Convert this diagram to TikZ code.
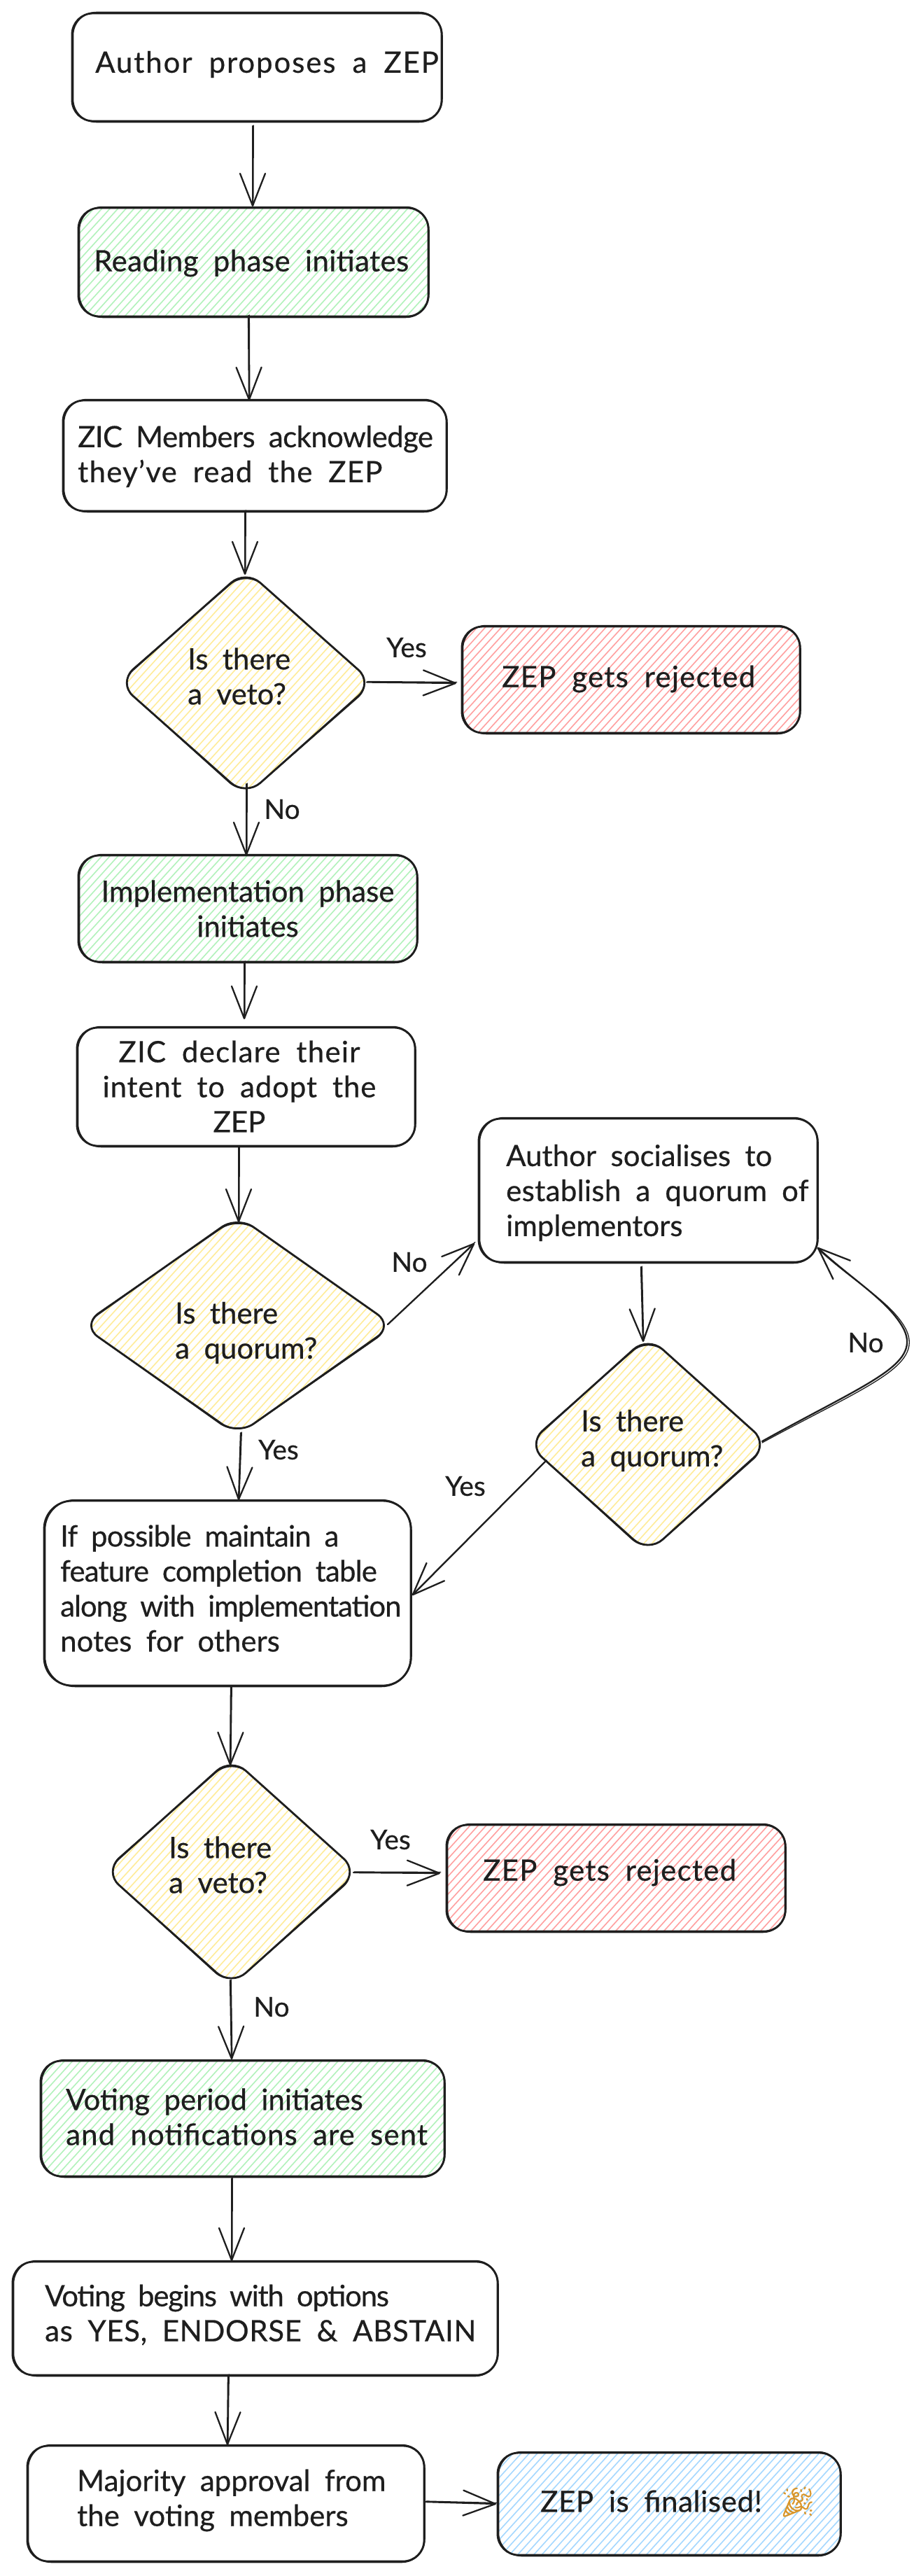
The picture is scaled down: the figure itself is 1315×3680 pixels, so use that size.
\documentclass[tikz,border=0pt]{standalone}
\usepackage{fontspec}
\setmainfont[WordSpace=1.9,FakeBold=0.5]{Lato}
\newfontfamily\emojifont[FakeBold=1]{Noto Emoji}
\usetikzlibrary{arrows.meta,shapes.geometric}
\definecolor{ink}{HTML}{1E1E1E}
\definecolor{hgreen}{HTML}{B2F2BB}
\definecolor{hred}{HTML}{FFA0A0}
\definecolor{hyellow}{HTML}{FFEC99}
\definecolor{hblue}{HTML}{A5D8FF}
\definecolor{partygold}{HTML}{D9962A}
\newcommand{\lsp}[2]{{\addfontfeature{LetterSpace=#1}#2}}
\tikzset{
  x=1pt,y=-1pt,
  outline/.style={draw=ink,line width=2.8pt,line join=round,line cap=round},
  thin outline/.style={draw=ink,line width=1.5pt,line join=round,line cap=round},
  hachure/.style={line width=1.6pt,line cap=round},
  conn/.style={draw=ink,line width=2.3pt,line cap=round,line join=round,
    -{Straight Barb[length=46pt,width=36pt,line width=2.3pt,round]}},
  conn2/.style={draw=ink,line width=1.3pt,line cap=round},
  txt/.style={text=ink,font=\fontsize{42}{50}\selectfont,inner sep=0pt,align=left,anchor=west},
  ctxt/.style={text=ink,font=\fontsize{42}{50}\selectfont,inner sep=0pt,align=center},
  lbl/.style={text=ink,font=\fontsize{39}{46}\selectfont,inner sep=0pt},
}
% hatch lines over the current clip: colour, x1, y1, x2, y2
\newcommand{\hatchlines}[5]{%
  \pgfmathsetmacro{\hH}{(#5-#3)/1.1}%
  \pgfmathsetmacro{\hEnd}{#4+\hH}%
  \pgfmathsetmacro{\hNext}{#2+11.5}%
  \foreach \k in {#2,\hNext,...,\hEnd}{%
    \draw[hachure,#1] (\k,#3) -- (\k-\hH,#5);%
  }}
% name, x1, y1, x2, y2, colour, radius
\newcommand{\skbox}[7]{%
  \node[rectangle,inner sep=0pt,outer sep=0pt,minimum width={#4-#2},minimum height={#5-#3}] (#1) at ({(#2+#4)/2},{(#3+#5)/2}) {};
  \ifx\relax#6\relax\else
    \begin{scope}
      \clip[rounded corners=#7] (#2,#3) rectangle (#4,#5);
      \hatchlines{#6}{#2}{#3}{#4}{#5}
    \end{scope}
  \fi
  \draw[outline,rounded corners=#7] (#2,#3) rectangle (#4,#5);
  \draw[thin outline,rounded corners=#7+3] (#2+1.5,#3-1.5) rectangle (#4+1,#5+1.5);
}
% name, x1, y1, x2, y2, colour
\newcommand{\skdiamond}[6]{%
  \pgfmathsetmacro{\dW}{#4-#2}\pgfmathsetmacro{\dH}{#5-#3}%
  \pgfmathsetmacro{\dA}{\dW/\dH}%
  \pgfmathsetmacro{\dX}{(#2+#4)/2}\pgfmathsetmacro{\dY}{(#3+#5)/2}%
  \node[diamond,shape aspect=\dA,inner sep=0pt,outer sep=0pt,minimum width=\dW pt,minimum height=\dH pt] (#1) at (\dX,\dY) {};
  \begin{scope}
    \clip[rounded corners=28] (\dX,#3-11) -- (#4+11,\dY) -- (\dX,#5+11) -- (#2-11,\dY) -- cycle;
    \hatchlines{#6}{#2}{#3}{#4}{#5}
  \end{scope}
  \draw[outline,rounded corners=28] (\dX,#3-11) -- (#4+11,\dY) -- (\dX,#5+11) -- (#2-11,\dY) -- cycle;
  \draw[thin outline,rounded corners=30] (\dX+1,#3-10) -- (#4+12,\dY+1) -- (\dX-1,#5+12) -- (#2-12,\dY-1) -- cycle;
}
\newcommand{\skarrow}[2]{%
  \coordinate (pp) at (#1);
  \coordinate (qq) at (#2);
  \draw[conn] (pp) -- (qq);
  \draw[conn2] ([xshift=1.3pt,yshift=1pt]pp) -- ([xshift=.8pt,yshift=1.5pt]qq);
}
\begin{document}
\begin{tikzpicture}
\useasboundingbox (0,0) rectangle (1315,3680);
\fill[white] (0,0) rectangle (1315,3680);

\skbox{a}{103}{19}{631}{173}{}{30}
\skbox{b}{112}{297}{612}{452}{hgreen}{30}
\skbox{c}{90}{572}{638}{730}{}{30}
\skdiamond{d1}{180}{825}{522}{1126}{hyellow}
\skbox{r1}{660}{895}{1143}{1047}{hred}{30}
\skbox{i}{112}{1222}{596}{1374}{hgreen}{30}
\skbox{z}{110}{1468}{593}{1637}{}{30}
\skdiamond{d2}{128}{1748}{551}{2039}{hyellow}
\skbox{s}{684}{1598}{1168}{1803}{}{32}
\skdiamond{d3}{765}{1920}{1087}{2207}{hyellow}
\skbox{f}{63}{2144}{587}{2408}{}{40}
\skdiamond{d4}{160}{2522}{501}{2826}{hyellow}
\skbox{r2}{638}{2607}{1122}{2759}{hred}{30}
\skbox{v}{58}{2944}{635}{3109}{hgreen}{30}
\skbox{w}{18}{3231}{711}{3393}{}{30}
\skbox{m}{39}{3494}{606}{3659}{}{30}
\skbox{g}{711}{3504}{1201}{3650}{hblue}{30}

\node[txt] (a-t) at (136,92) {\lsp{4.5}{Author proposes a ZEP}};
\node[txt] (b-t) at (134,376) {\lsp{1}{Reading phase initiates}};
\node[txt] (c-t) at (111,652) {\lsp{-1.5}{ZIC Members acknowledge}\\\lsp{3}{they've read the ZEP}};
\node[txt] (d1-t) at (268,966) {Is there\\a veto?};
\node[txt] (r1-t) at (717,970) {\lsp{3}{ZEP gets rejected}};
\node[ctxt] (i-t) at (354,1298) {Implementation phase\\initiates};
\node[ctxt] (z-t) at (342,1552) {\lsp{3}{ZIC declare their}\\\lsp{2}{intent to adopt the}\\ZEP};
\node[txt] (d2-t) at (250,1904) {Is there\\a quorum?};
\node[txt] (s-t) at (723,1704) {Author socialises to\\\lsp{0.8}{establish a quorum of}\\implementors};
\node[txt] (d3-t) at (830,2058) {Is there\\a quorum?};
\node[txt] (f-t) at (86,2269) {\lsp{-2}{If possible maintain a}\\\lsp{-2}{feature completion table}\\\lsp{-2.5}{along with implementation}\\notes for others};
\node[txt] (d4-t) at (241,2664) {Is there\\a veto?};
\node[txt] (r2-t) at (690,2675) {\lsp{3}{ZEP gets rejected}};
\node[txt] (v-t) at (94,3024) {Voting period initiates\\\lsp{2.5}{and notifications are sent}};
\node[txt] (w-t) at (64,3307) {\lsp{-3}{Voting begins with options}\\\lsp{1.5}{as YES, ENDORSE \& ABSTAIN}};
\node[txt] (m-t) at (110,3572) {Majority approval from\\the voting members};
\node[txt] (g-t) at (772,3574) {\lsp{1.5}{ZEP is finalised!} {\emojifont\textcolor{partygold}{🎉}}};

\node[lbl] (y1) at (581,925) {Yes};
\node[lbl] (n1) at (403,1156) {No};
\node[lbl] (n2) at (585,1803) {No};
\node[lbl] (y2) at (398,2071) {Yes};
\node[lbl] (y3) at (665,2123) {Yes};
\node[lbl] (n3) at (1237,1918) {No};
\node[lbl] (y4) at (558,2628) {Yes};
\node[lbl] (n4) at (388,2867) {No};

\skarrow{[xshift=-6pt,yshift=-7pt]a.south}{[xshift=-1pt,yshift=2pt]b.north}
\skarrow{[xshift=-7pt,yshift=1pt]b.south}{[xshift=-8pt]c.north}
\skarrow{[xshift=-14pt]c.south}{[xshift=-1pt,yshift=4pt]d1.north}
\skarrow{[xshift=2pt,yshift=1pt]d1.east}{[xshift=-8pt,yshift=-5pt]r1.west}
\skarrow{[xshift=1pt,yshift=6pt]d1.south}{[xshift=-2pt]i.north}
\skarrow{[xshift=-5pt]i.south}{[xshift=-2.5pt,yshift=12pt]z.north}
\skarrow{[xshift=-10.5pt,yshift=-1pt]z.south}{[xshift=1.5pt,yshift=2pt]d2.north}
\skarrow{[xshift=3pt,yshift=1.5pt]d2.east}{[xshift=-6pt,yshift=-75.5pt]s.west}
\skarrow{[xshift=-10pt,yshift=-7pt]s.south}{[xshift=-7pt,yshift=3pt]d3.north}
\skarrow{[xshift=4.5pt,yshift=-8pt]d2.south}{[xshift=16pt,yshift=1pt]f.north}
\skarrow{[xshift=15pt,yshift=-23.5pt]d3.west}{[xshift=2pt,yshift=-3pt]f.east}
\skarrow{[xshift=5pt,yshift=-2pt]f.south}{[xshift=-1.5pt]d4.north}
\skarrow{[xshift=4pt,yshift=-1pt]d4.east}{[xshift=-9pt,yshift=7pt]r2.west}
\skarrow{[xshift=-1.5pt,yshift=-3pt]d4.south}{[xshift=-15.5pt,yshift=2pt]v.north}
\skarrow{[xshift=-15.5pt,yshift=-3pt]v.south}{[xshift=-33.5pt,yshift=1pt]w.north}
\skarrow{[xshift=-38.5pt]w.south}{[xshift=2.5pt,yshift=1pt]m.north}
\skarrow{[xshift=2pt,yshift=2.5pt]m.east}{[xshift=-2pt]g.west}
\draw[conn] ([xshift=2pt,yshift=4.5pt]d3.east) .. controls (1240,1975) and (1315,1950) .. (1292,1900) .. controls (1272,1860) and (1220,1830) .. ([yshift=-81.5pt]s.east);
\draw[conn2] ([xshift=2pt,yshift=2.5pt]d3.east) .. controls (1240,1979) and (1319,1952) .. (1295,1900) .. controls (1275,1860) and (1220,1832) .. ([yshift=-83pt]s.east);
\end{tikzpicture}
\end{document}
